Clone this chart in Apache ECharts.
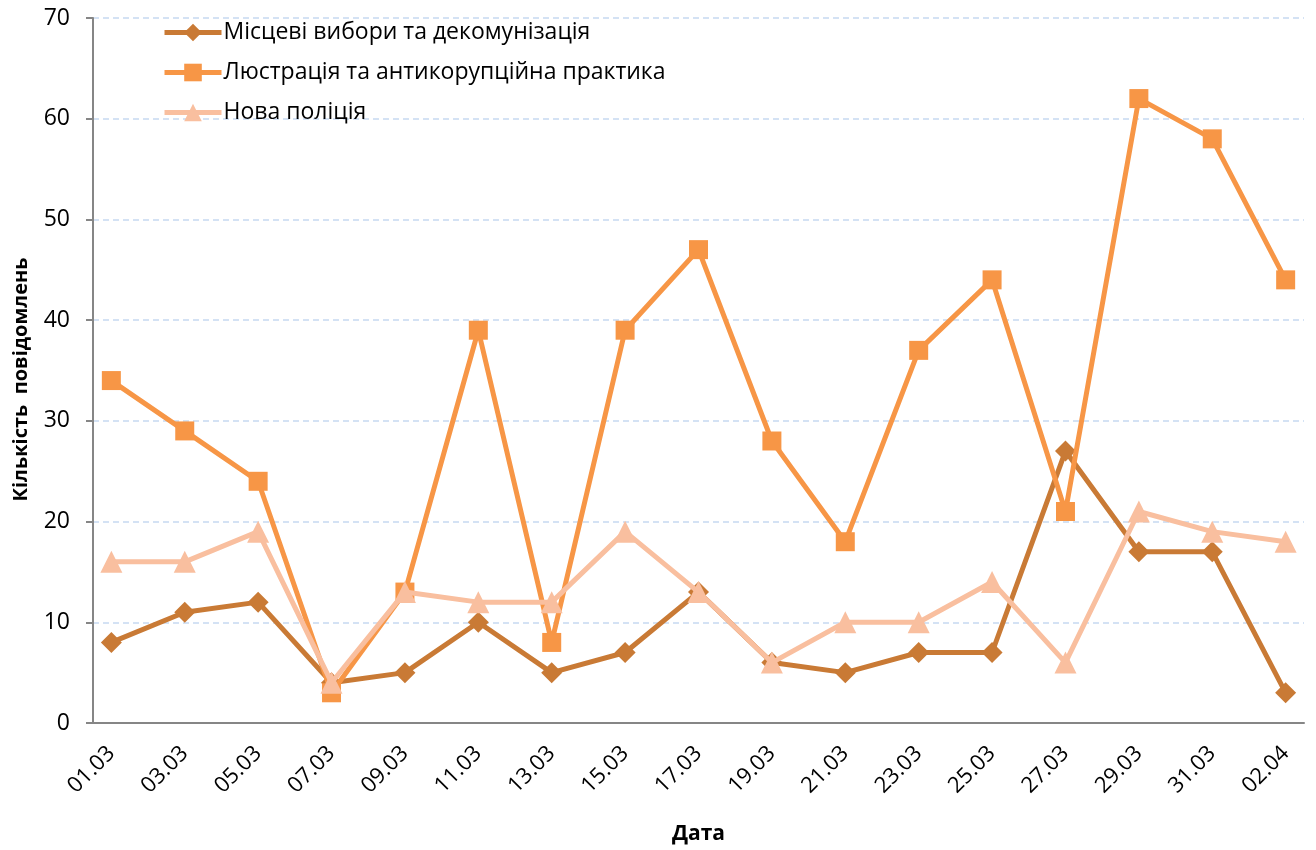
<!DOCTYPE html>
<html>
<head>
<meta charset="utf-8">
<script src="https://cdn.jsdelivr.net/npm/echarts@6/dist/echarts.min.js"></script>
<style>html,body{margin:0;padding:0;background:#fff}#c{width:1316px;height:850px}</style>
</head>
<body>
<div id="c"></div>
<script>
// Dates of observations (every two days)
const dates = ['01.03','03.03','05.03','07.03','09.03','11.03','13.03','15.03','17.03','19.03','21.03','23.03','25.03','27.03','29.03','31.03','02.04'];
const seriesNames = ['Місцеві вибори та декомунізація','Люстрація та антикорупційна практика','Нова поліція'];
const localElections = [8,11,12,4,5,10,5,7,13,6,5,7,7,27,17,17,3];
const lustration = [34,29,24,3,13,39,8,39,47,28,18,37,44,21,62,58,44];
const newPolice = [16,16,19,4,13,12,12,19,13,6,10,10,14,6,21,19,18];
const yTicks = [0,10,20,30,40,50,60,70];

// Daily date axis: 01.03 .. 02.04 (data every second day)
const days = [];
for (let d = 1; d <= 31; d++) days.push((d < 10 ? '0' + d : '' + d) + '.03');
days.push('01.04', '02.04');
function toDaily(vals) {
  const out = days.map(() => null);
  dates.forEach((dt, i) => { out[days.indexOf(dt)] = vals[i]; });
  return out;
}

const FONT = '"Open Sans", sans-serif';
const colors = ['#C97A35', '#F79646', '#F9BF9F'];
const symbols = ['diamond', 'rect', 'triangle'];
const symbolSizes = [21, 19, 22];
const allData = [localElections, lustration, newPolice];

const chart = echarts.init(document.getElementById('c'), null, {renderer: 'canvas'});
chart.setOption({
  animation: false,
  backgroundColor: '#fff',
  grid: {left: 93, right: 12, top: 18, bottom: 127, containLabel: false},
  legend: {
    orient: 'vertical', left: 157, top: 16,
    itemWidth: 57, itemHeight: 22, itemGap: 17,
    lineStyle: {width: 5},
    textStyle: {fontFamily: FONT, fontSize: 23, color: '#000', padding: [0, 0, 0, -3]},
    data: seriesNames
  },
  xAxis: {
    type: 'category', data: days, boundaryGap: true,
    name: 'Дата', nameLocation: 'middle', nameGap: 101,
    nameTextStyle: {fontFamily: FONT, fontSize: 21, fontWeight: 'bold', color: '#000'},
    axisLine: {lineStyle: {color: '#868686', width: 2}},
    axisTick: {show: false},
    axisLabel: {interval: 1, rotate: 45, margin: 27, fontFamily: FONT, fontSize: 22, color: '#000'},
    splitLine: {show: false}
  },
  yAxis: {
    type: 'value', min: yTicks[0], max: yTicks[yTicks.length - 1], interval: 10,
    name: 'Кількість  повідомлень', nameLocation: 'middle', nameGap: 62,
    nameTextStyle: {fontFamily: FONT, fontSize: 20, fontWeight: 'bold', color: '#000', padding: [0, 18, 0, 0]},
    axisLine: {show: true, lineStyle: {color: '#868686', width: 2}},
    axisTick: {show: true, length: 7, lineStyle: {color: '#868686', width: 2}},
    axisLabel: {margin: 23, fontFamily: FONT, fontSize: 23, color: '#000'},
    splitLine: {show: true, lineStyle: {color: '#C6D9F1', width: 1.5, type: [6, 4]}}
  },
  series: seriesNames.map((n, i) => ({
    name: n, type: 'line', data: toDaily(allData[i]), connectNulls: true,
    symbol: symbols[i], symbolSize: symbolSizes[i], showAllSymbol: true,
    lineStyle: {color: colors[i], width: 5},
    itemStyle: {color: colors[i], borderWidth: 0},
    emphasis: {disabled: true}, z: 2 + i
  }))
});
</script>
</body>
</html>
